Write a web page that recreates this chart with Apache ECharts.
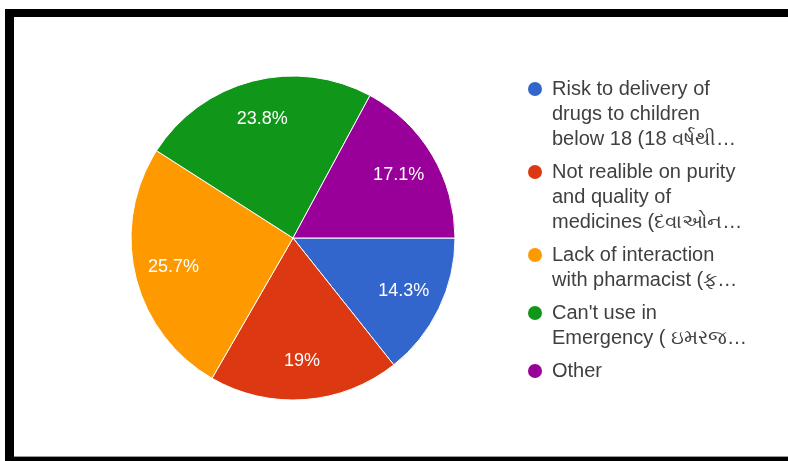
<!DOCTYPE html>
<html>
<head>
<meta charset="utf-8">
<script src="https://cdn.jsdelivr.net/npm/echarts/dist/echarts.min.js"></script>
<style>
  html, body { margin: 0; padding: 0; background: #ffffff; }
  #chart { width: 788px; height: 461px; }
</style>
</head>
<body>
<div id="chart"></div>
<script>
// Survey answers (legend text is wrapped / truncated as displayed)
const categories = [
  'Risk to delivery of\ndrugs to children\nbelow 18 (18 વર્ષથી…',
  'Not realible on purity\nand quality of\nmedicines (દવાઓન…',
  'Lack of interaction\nwith pharmacist (ફ…',
  "Can't use in\nEmergency ( ઇમરજ…",
  'Other'
];
// Share of responses, in percent
const shares = [14.3, 19, 25.7, 23.8, 17.1];
const colors = ['#3366cc', '#dc3912', '#ff9900', '#109618', '#990099'];

const FONT = "'Liberation Sans', Arial, sans-serif";

const chart = echarts.init(document.getElementById('chart'), null, { renderer: 'canvas' });

// rich styles: a coloured dot per legend entry, spacers, and the text itself
const rich = {
  g: { width: 10 },
  s: { width: 24 },
  t: { fontSize: 20, lineHeight: 25, color: '#404040', fontFamily: FONT }
};
colors.forEach(function (c, i) {
  rich['d' + i] = { width: 14, height: 14, borderRadius: 7, backgroundColor: c };
});

const sliceData = categories.map(function (name, i) {
  return { name: name, value: shares[i], itemStyle: { color: colors[i] } };
});

chart.setOption({
  backgroundColor: '#ffffff',
  animation: false,
  graphic: [
    { type: 'rect', shape: { x: 5, y: 9, width: 783, height: 8 }, style: { fill: '#000' } },
    { type: 'rect', shape: { x: 5, y: 9, width: 9, height: 452 }, style: { fill: '#000' } },
    { type: 'rect', shape: { x: 14, y: 456, width: 774, height: 1 }, style: { fill: '#9a9a9a' } },
    { type: 'rect', shape: { x: 14, y: 457, width: 774, height: 4 }, style: { fill: '#000' } }
  ],
  legend: {
    orient: 'vertical',
    left: 522,
    top: 79,
    padding: 0,
    itemWidth: 0,
    itemHeight: 0,
    itemGap: 13,
    selectedMode: false,
    data: categories,
    formatter: function (name) {
      const idx = categories.indexOf(name);
      return name.split('\n').map(function (line, i) {
        return (i === 0 ? '{d' + idx + '|}{g|}' : '{s|}') + '{t|' + line + '}';
      }).join('\n');
    },
    textStyle: { rich: rich }
  },
  series: [
    {
      type: 'pie',
      center: [293, 238],
      radius: 162,
      startAngle: 0,
      clockwise: true,
      silent: true,
      label: { show: false },
      labelLine: { show: false },
      itemStyle: { borderColor: '#ffffff', borderWidth: 1 },
      data: sliceData
    },
    {
      // transparent ring that only carries the percentage labels
      type: 'pie',
      center: [293, 238],
      radius: [78, 162],
      startAngle: 0,
      clockwise: true,
      silent: true,
      itemStyle: { color: 'rgba(0,0,0,0)', borderWidth: 0 },
      label: {
        show: true,
        position: 'inside',
        formatter: function (p) { return p.value + '%'; },
        color: '#ffffff',
        fontSize: 18,
        fontFamily: FONT
      },
      labelLine: { show: false },
      data: categories.map(function (name, i) {
        return { name: name, value: shares[i] };
      })
    }
  ]
});
</script>
</body>
</html>
